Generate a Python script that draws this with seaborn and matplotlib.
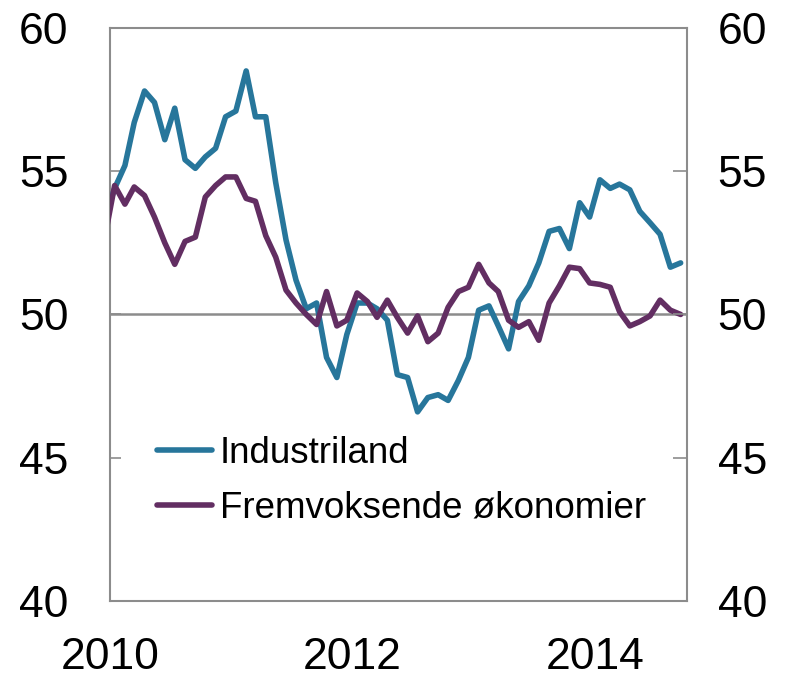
import matplotlib
matplotlib.use("Agg")
import matplotlib.pyplot as plt
import seaborn as sns
import pandas as pd
import numpy as np
from matplotlib.lines import Line2D

# Monthly data, Dec 2009 - Sep 2014 (plotted mid-month)
start_month = "2009-12-01"
industriland = [53.3, 54.4, 55.2, 56.7, 57.8, 57.4, 56.1, 57.2, 55.4, 55.1, 55.5, 55.8,
                56.9, 57.1, 58.5, 56.9, 56.9, 54.6, 52.6, 51.2, 50.2, 50.4, 48.5, 47.8,
                49.3, 50.4, 50.4, 50.2, 49.8, 47.9, 47.8, 46.6, 47.1, 47.2, 47.0, 47.7,
                48.5, 50.15, 50.3, 49.6, 48.8, 50.45, 51.0, 51.8, 52.9, 53.0, 52.3, 53.9,
                53.4, 54.7, 54.4, 54.55, 54.35, 53.6, 53.2, 52.8, 51.65, 51.8]
fremvoksende = [52.6, 54.5, 53.85, 54.45, 54.15, 53.4, 52.5, 51.75, 52.55, 52.7, 54.1, 54.5,
                54.8, 54.8, 54.05, 53.95, 52.75, 52.0, 50.85, 50.4, 50.0, 49.65, 50.8, 49.6,
                49.8, 50.75, 50.45, 49.9, 50.5, 49.9, 49.35, 49.95, 49.05, 49.35, 50.25, 50.8,
                50.95, 51.75, 51.1, 50.8, 49.8, 49.55, 49.75, 49.1, 50.4, 51.0, 51.65, 51.6,
                51.1, 51.05, 50.95, 50.1, 49.6, 49.75, 49.95, 50.5, 50.15, 50.0]
series_names = ["Industriland", "Fremvoksende økonomier"]
colors = ["#27769b", "#622e62"]
tick_years = ["2010", "2012", "2014"]
y_ticks = [40, 45, 50, 55, 60]

dates = pd.date_range(start_month, periods=len(industriland), freq="MS") + pd.Timedelta(days=14)
df = pd.concat([
    pd.DataFrame({"date": dates, "value": industriland, "serie": series_names[0]}),
    pd.DataFrame({"date": dates, "value": fremvoksende, "serie": series_names[1]}),
])

sns.set_style("white")
plt.rcParams["font.family"] = ["Liberation Sans", "DejaVu Sans"]
plt.rcParams["text.color"] = "black"
plt.rcParams["xtick.color"] = "black"
plt.rcParams["ytick.color"] = "black"

fig = plt.figure(figsize=(7.85, 6.77), dpi=100)
ax = fig.add_axes([0.1401, 0.1123, 0.7350, 0.8464])

gray = "#8c8c8c"
ax.axhline(50, color=gray, lw=1.8, zorder=1)

sns.lineplot(data=df, x="date", y="value", hue="serie", hue_order=series_names,
             palette=colors, linewidth=4.0, ax=ax, legend=False, zorder=3)

ax.set_ylim(40, 60)
ax.set_xlim(pd.Timestamp("2010-01-01"), pd.Timestamp("2014-10-04"))
ax.set_xticks([pd.Timestamp(f"{y}-01-01") for y in tick_years])
ax.set_xticklabels(tick_years)
ax.set_yticks(y_ticks)
ax.set_yticklabels([str(v) for v in y_ticks])
ax.set_xlabel("")
ax.set_ylabel("")

for s in ax.spines.values():
    s.set_color(gray)
    s.set_linewidth(1.5)

ax.tick_params(axis="x", direction="in", length=8, width=1.2, color=gray,
               labelcolor="black", labelsize=32, pad=26)
ax.tick_params(axis="y", direction="in", length=8, width=1.2, color=gray,
               labelcolor="black", labelsize=32, pad=30)

ax2 = ax.twinx()
ax2.set_ylim(40, 60)
ax2.set_yticks(y_ticks)
ax2.set_yticklabels([str(v) for v in y_ticks])
ax2.tick_params(axis="y", direction="in", length=10, width=1.2, color=gray,
                labelcolor="black", labelsize=32, pad=22)
for s in ax2.spines.values():
    s.set_visible(False)

handles = [Line2D([0], [0], color=c, lw=4.0, solid_capstyle="round") for c in colors]
ax.legend(handles, series_names, loc="center left", bbox_to_anchor=(0.0815, 0.21),
          frameon=False, fontsize=26.5, handlelength=1.5, handletextpad=0.2,
          labelspacing=0.55, borderpad=0, borderaxespad=0, labelcolor="black")

fig.savefig("out.png", dpi=100)
